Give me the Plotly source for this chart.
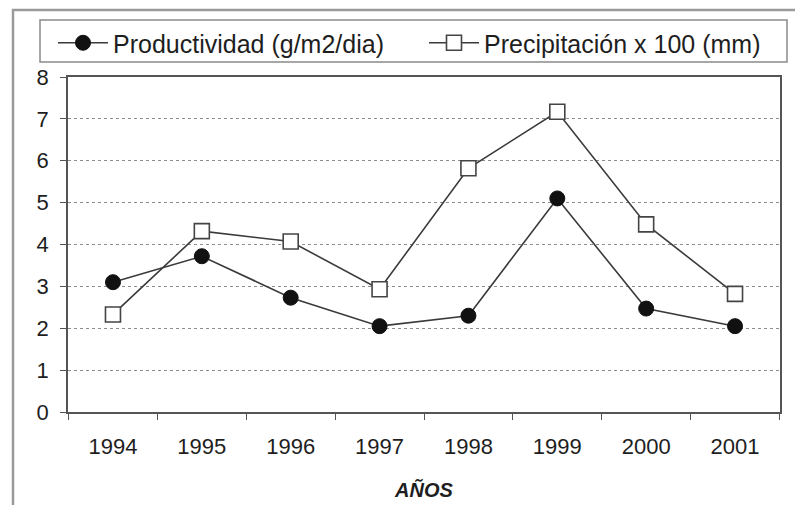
import plotly.graph_objects as go

# Annual series
years = ["1994", "1995", "1996", "1997", "1998", "1999", "2000", "2001"]
productividad = [3.1, 3.72, 2.73, 2.05, 2.3, 5.1, 2.47, 2.05]
precipitacion = [2.33, 4.32, 4.07, 2.93, 5.82, 7.17, 4.48, 2.82]
y_ticks = [0, 1, 2, 3, 4, 5, 6, 7, 8]

W, H = 795, 505
L, R, T, B = 68, 15, 77, 93
FONT = "Liberation Sans, Arial, sans-serif"
INK = "#1e1e1e"
LINE = "#3a3a3a"

fig = go.Figure()
fig.add_trace(go.Scatter(
    x=years, y=productividad, mode="lines+markers",
    name="Productividad (g/m2/dia)",
    line=dict(color=LINE, width=1.6),
    marker=dict(symbol="circle", size=15, color="#111111",
                line=dict(color="#111111", width=1)),
))
fig.add_trace(go.Scatter(
    x=years, y=precipitacion, mode="lines+markers",
    name="Precipitación x 100 (mm)",
    line=dict(color=LINE, width=1.6),
    marker=dict(symbol="square", size=15, color="white",
                line=dict(color="#444444", width=1.6)),
))

pw = W - L - R
ph = H - T - B

def px_x(p):
    return (p - L) / pw

def px_y(p):
    return (H - B - p) / ph

fig.update_layout(
    width=W, height=H,
    margin=dict(l=L, r=R, t=T, b=B),
    paper_bgcolor="white", plot_bgcolor="white",
    font=dict(family=FONT, size=22, color=INK),
    showlegend=True,
    legend=dict(
        orientation="h", x=px_x(60), xanchor="left",
        y=px_y(20), yanchor="top",
        borderwidth=0, bgcolor="rgba(0,0,0,0)",
        font=dict(family=FONT, size=25, color=INK),
        entrywidth=306, entrywidthmode="pixels",
        itemwidth=50, tracegroupgap=0,
    ),
    xaxis=dict(
        type="category", tickson="boundaries", automargin=False,
        showline=True, linecolor="#555555", linewidth=1.5, mirror=True,
        ticks="outside", ticklen=6, tickcolor="#555555", tickwidth=1.2,
        showgrid=False, zeroline=False,
        ticklabelstandoff=14,
        tickfont=dict(family=FONT, size=22, color=INK),
        title=dict(text="<b><i>AÑOS</i></b>", standoff=25,
                   font=dict(family=FONT, size=20, color=INK)),
    ),
    yaxis=dict(
        range=[0, 8], tickvals=y_ticks, automargin=False,
        showline=True, linecolor="#555555", linewidth=1.5, mirror=True,
        ticks="outside", ticklen=6, tickcolor="#555555", tickwidth=1.2,
        showgrid=True, gridcolor="#8c8c8c", griddash="dot", gridwidth=1.2,
        zeroline=False, ticklabelstandoff=7,
        tickfont=dict(family=FONT, size=22, color=INK),
    ),
    shapes=[
        dict(
            type="rect", xref="paper", yref="paper",
            x0=px_x(13), x1=px_x(805), y0=px_y(10), y1=px_y(520),
            line=dict(color="#9a9a9a", width=2.5), fillcolor="rgba(0,0,0,0)",
            layer="below",
        ),
        dict(
            type="rect", xref="paper", yref="paper",
            x0=px_x(40), x1=px_x(787), y0=px_y(20), y1=px_y(62),
            line=dict(color="#8a8a8a", width=1.5), fillcolor="rgba(0,0,0,0)",
            layer="below",
        ),
    ],
)

fig.write_html("out.html")
